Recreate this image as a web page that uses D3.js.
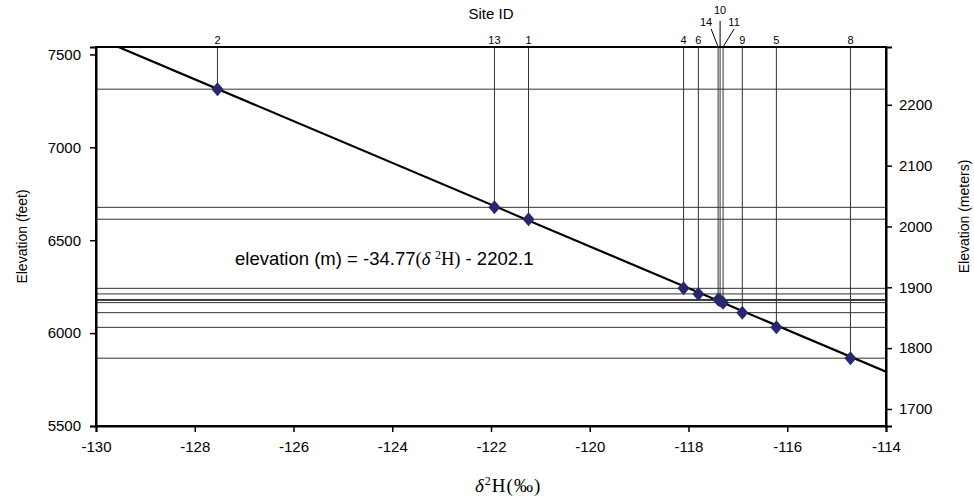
<!DOCTYPE html>
<html>
<head>
<meta charset="utf-8">
<script src="https://cdn.jsdelivr.net/npm/d3@7"></script>
<style>
  body { margin: 0; background: #fff; }
  svg { display: block; font-family: Arial, 'Liberation Sans', sans-serif; }
  .axis path, .axis line { stroke: #000; }
  .axis text { font-size: 15px; fill: #000; font-family: Arial, 'Liberation Sans', sans-serif; }
</style>
</head>
<body>
<svg id="chart" width="974" height="500"></svg>
<script>
// site ids with their d2H (permil) and elevation (feet)
const siteIds = ['2', '13', '1', '4', '6', '14', '10', '11', '9', '5', '8']
const deltaH = [-127.54, -121.93, -121.24, -118.10, -117.80, -117.40, -117.36, -117.30, -116.91, -116.22, -114.72]
const elevationFt = [7313, 6677, 6613, 6241, 6211, 6181, 6176, 6164, 6110, 6031, 5865]

// trend line as drawn (feet vs d2H)
const trendDelta = [-130, -114]
const trendFt = [7591, 5792]

const xTicks = [-130, -128, -126, -124, -122, -120, -118, -116, -114]
const ftTicks = [5500, 6000, 6500, 7000, 7500]
const mTicks = [1700, 1800, 1900, 2000, 2100, 2200]

const width = 974
const height = 500
const margin = {top: 47, right: 88, bottom: 74, left: 96}
const innerWidth = width - margin.left - margin.right
const innerHeight = height - margin.top - margin.bottom
const serif = "'Times New Roman', 'Liberation Serif', serif"

const svg = d3.select('#chart')
const g = svg.append('g').attr('transform', `translate(${margin.left},${margin.top})`)

const x = d3.scaleLinear().domain([-130, -114]).range([0, innerWidth])
const yFt = d3.scaleLinear().domain([5500, 7540]).range([innerHeight, 0])
const yM = d3.scaleLinear().domain([1672, 2295]).range([innerHeight, 0])

const sites = siteIds.map((id, i) => ({id, d: deltaH[i], ft: elevationFt[i]}))

g.append('clipPath').attr('id', 'plot-clip')
  .append('rect').attr('width', innerWidth).attr('height', innerHeight)

// horizontal guides at each site elevation
g.append('g').selectAll('line')
  .data(sites)
  .join('line')
  .attr('x1', 0)
  .attr('x2', innerWidth)
  .attr('y1', d => yFt(d.ft))
  .attr('y2', d => yFt(d.ft))
  .attr('stroke', '#333')
  .attr('stroke-width', 1)

// vertical guides from the top edge down to each site
g.append('g').selectAll('line')
  .data(sites)
  .join('line')
  .attr('x1', d => x(d.d))
  .attr('x2', d => x(d.d))
  .attr('y1', 0)
  .attr('y2', d => yFt(d.ft))
  .attr('stroke', '#333')
  .attr('stroke-width', 1)

// trend line
g.append('line')
  .attr('clip-path', 'url(#plot-clip)')
  .attr('x1', x(trendDelta[0]))
  .attr('y1', yFt(trendFt[0]))
  .attr('x2', x(trendDelta[1]))
  .attr('y2', yFt(trendFt[1]))
  .attr('stroke', '#000')
  .attr('stroke-width', 2.2)

// markers
g.append('g').selectAll('path')
  .data(sites)
  .join('path')
  .attr('transform', d => `translate(${x(d.d)},${yFt(d.ft)})`)
  .attr('d', 'M0,-7L6,0L0,7L-6,0Z')
  .attr('fill', '#28286e')

// frame
g.append('rect')
  .attr('width', innerWidth)
  .attr('height', innerHeight)
  .attr('fill', 'none')
  .attr('stroke', '#000')
  .attr('stroke-width', 2)

// axes (plain hyphen for negatives, no thousands separator)
const fmt = d => String(d)
g.append('g').attr('class', 'axis')
  .attr('transform', `translate(0,${innerHeight})`)
  .call(d3.axisBottom(x).tickValues(xTicks).tickFormat(fmt).tickSizeOuter(0).tickSize(6).tickPadding(9))
g.append('g').attr('class', 'axis')
  .call(d3.axisLeft(yFt).tickValues(ftTicks).tickFormat(fmt).tickSizeOuter(0).tickSize(6).tickPadding(9))
g.append('g').attr('class', 'axis')
  .attr('transform', `translate(${innerWidth},0)`)
  .call(d3.axisRight(yM).tickValues(mTicks).tickFormat(fmt).tickSizeOuter(0).tickSize(6).tickPadding(7))
g.selectAll('.axis .domain').attr('stroke-width', 2)
g.selectAll('.axis .tick line').attr('stroke-width', 1.5)

// site labels above the frame; crowded ones get a leader line
const callouts = {
  '14': {dx: -12, dy: -18, lx: -7, ly: -18},
  '10': {dx: 0, dy: -30, lx: 0, ly: -26},
  '11': {dx: 11, dy: -18, lx: 11, ly: -18},
}
const labels = g.append('g').attr('font-size', 11)
sites.forEach(s => {
  const c = callouts[s.id]
  const sx = x(s.d)
  if (c) {
    labels.append('line')
      .attr('x1', sx).attr('y1', 0)
      .attr('x2', sx + c.lx).attr('y2', c.ly)
      .attr('stroke', '#000').attr('stroke-width', 1)
  }
  labels.append('text')
    .attr('x', sx + (c ? c.dx : 0))
    .attr('y', (c ? c.dy : 0) - 3)
    .attr('text-anchor', 'middle')
    .text(s.id)
})

svg.append('text')
  .attr('x', margin.left + innerWidth / 2)
  .attr('y', 19)
  .attr('text-anchor', 'middle')
  .attr('font-size', 15)
  .text('Site ID')

svg.append('text')
  .attr('transform', `translate(27,${margin.top + innerHeight / 2}) rotate(-90)`)
  .attr('text-anchor', 'middle')
  .attr('font-size', 14)
  .text('Elevation (feet)')

svg.append('text')
  .attr('transform', `translate(969,${margin.top + innerHeight / 2 - 20}) rotate(-90)`)
  .attr('text-anchor', 'middle')
  .attr('font-size', 14)
  .text('Elevation (meters)')

// x axis title in serif
const xt = svg.append('text')
  .attr('x', 475)
  .attr('y', 492)
  .attr('font-family', serif)
  .attr('font-size', 19)
  .attr('letter-spacing', 1)
xt.append('tspan').attr('font-style', 'italic').text('δ')
xt.append('tspan').attr('font-size', 12).attr('dy', -7).text('2')
xt.append('tspan').attr('dy', 7).text('H(‰)')

// regression equation
const eq = svg.append('text')
  .attr('x', 235)
  .attr('y', 265)
  .attr('font-size', 18.5)
eq.append('tspan').text('elevation (m) = -34.77')
eq.append('tspan').attr('font-family', serif).text('(')
eq.append('tspan').attr('font-family', serif).attr('font-style', 'italic').text('δ ')
eq.append('tspan').attr('font-family', serif).attr('font-size', 12).attr('dy', -6).text('2')
eq.append('tspan').attr('font-family', serif).attr('dy', 6).text('H)')
eq.append('tspan').text(' - 2202.1')
</script>
</body>
</html>
